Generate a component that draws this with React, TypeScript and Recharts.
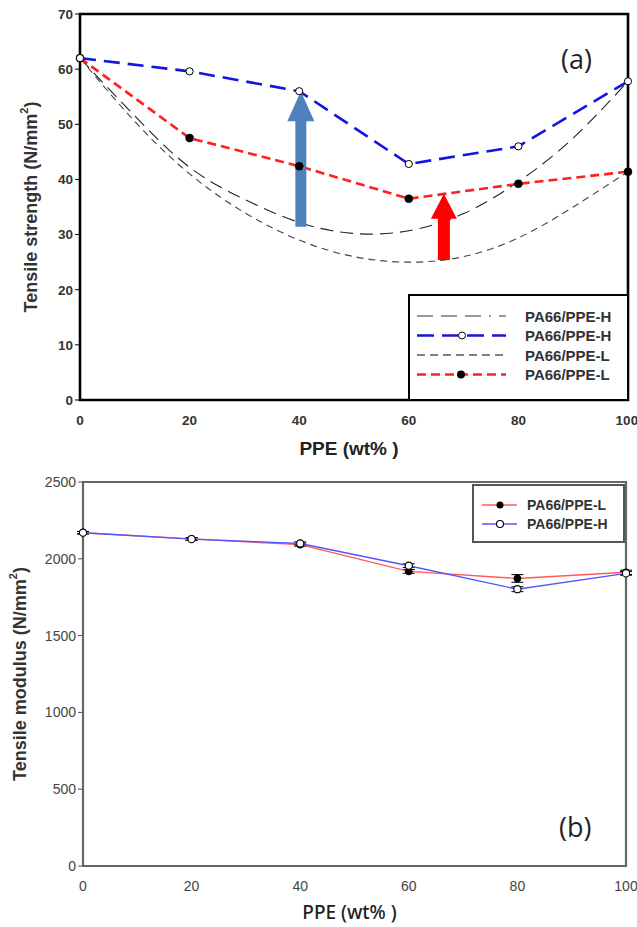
import {
  LineChart,
  Line,
  XAxis,
  YAxis,
  ReferenceArea,
  ReferenceLine,
  Legend,
  ErrorBar,
} from 'recharts';

// measured points
const ppe = [0, 20, 40, 60, 80, 100];
const strengthH = [62, 59.6, 56, 42.8, 46, 57.8];
const strengthL = [62, 47.5, 42.4, 36.5, 39.2, 41.4];

// additive (mixing rule) curves, read every 10 wt%
const ppeFine = [0, 10, 20, 30, 40, 50, 60, 70, 80, 90, 100];
const mixH = [62, 51.5, 42.2, 36.4, 32.2, 30.2, 30.7, 33.8, 39.6, 47.5, 57.8];
const mixL = [62, 50.5, 41, 34, 29, 26, 25, 26, 29.4, 35, 41.4];

const strengthTicks = [0, 10, 20, 30, 40, 50, 60, 70];
const ppeTicks = [0, 20, 40, 60, 80, 100];

const modulusL = [2170, 2130, 2092, 1918, 1872, 1912];
const modulusH = [2170, 2128, 2100, 1955, 1802, 1905];
const modulusErrL = [8, 8, 10, 12, 25, 14];
const modulusErrH = [8, 8, 10, 12, 16, 12];
const modulusTicks = [0, 500, 1000, 1500, 2000, 2500];

const topLegendNames = ['PA66/PPE-H', 'PA66/PPE-H', 'PA66/PPE-L', 'PA66/PPE-L'];
const bottomLegendNames = ['PA66/PPE-L', 'PA66/PPE-H'];

// arrows: x position, from, to
const blueArrow = { x: 40.3, from: 31.4, to: 56 };
const redArrow = { x: 66.4, from: 25.4, to: 37.4 };

const hData = ppe.map((x, i) => ({ x, y: strengthH[i] }));
const lData = ppe.map((x, i) => ({ x, y: strengthL[i] }));
const mixHData = ppeFine.map((x, i) => ({ x, y: mixH[i] }));
const mixLData = ppeFine.map((x, i) => ({ x, y: mixL[i] }));
const modData = ppe.map((x, i) => ({
  x,
  l: modulusL[i],
  h: modulusH[i],
  el: modulusErrL[i],
  eh: modulusErrH[i],
}));

const boldTick = { fontFamily: 'Liberation Sans, Arial, sans-serif', fontSize: 13.5, fontWeight: 700, fill: '#333' };
const narrowTick = { fontFamily: 'Liberation Sans Narrow, Arial Narrow, Liberation Sans, sans-serif', fontSize: 14, fill: '#444' };

function arrowShape(color: string, shaft: number, head: number, headLen: number) {
  return (p: any) => {
    const { x1, y1, x2, y2 } = p;
    const cx = (x1 + x2) / 2;
    const bottom = Math.max(y1, y2);
    const tip = Math.min(y1, y2);
    const base = tip + headLen;
    const pts = [
      [cx - shaft / 2, bottom],
      [cx - shaft / 2, base],
      [cx - head / 2, base],
      [cx, tip],
      [cx + head / 2, base],
      [cx + shaft / 2, base],
      [cx + shaft / 2, bottom],
    ]
      .map((q) => q.join(','))
      .join(' ');
    return <polygon points={pts} fill={color} stroke="none" />;
  };
}

function yLabel(text: string, x: number) {
  return (props: any) => {
    const vb = props.viewBox || {};
    const cy = vb.y + vb.height / 2;
    return (
      <text
        x={x}
        y={cy}
        transform={`rotate(-90 ${x} ${cy})`}
        textAnchor="middle"
        dominantBaseline="central"
        fontFamily="Liberation Sans, Arial, sans-serif"
        fontWeight={700}
        fontSize={18}
        fill="#333"
      >
        {text} (N/mm<tspan dy={-7} fontSize={11}>2</tspan>
        <tspan dy={7}>)</tspan>
      </text>
    );
  };
}

function xLabel(y: number, family: string, weight: number, size: number) {
  return (props: any) => {
    const vb = props.viewBox || {};
    const cx = vb.x + vb.width / 2 - 5;
    return (
      <text x={cx} y={y} textAnchor="middle" dominantBaseline="central" fontFamily={family} fontWeight={weight} fontSize={size} fill="#222">
        PPE (wt% )
      </text>
    );
  };
}

const legendText = { fontFamily: 'Liberation Sans, Arial, sans-serif', fontWeight: 700, fill: '#333' };

function TopLegend() {
  const styles = [
    { stroke: '#333', width: 1.2, dash: '16 8 16 8 16 8 2 8', dot: null },
    { stroke: '#1414e0', width: 2.6, dash: '17 8', dot: 'open' },
    { stroke: '#555', width: 1.3, dash: '8 5', dot: null },
    { stroke: '#ff2020', width: 2.6, dash: '9 5', dot: 'fill' },
  ];
  return (
    <div style={{ width: 221, height: 107, border: '2px solid #000', background: '#fff', boxSizing: 'border-box' }}>
      <svg width={217} height={103}>
        {topLegendNames.map((name, i) => {
          const y = 20 + i * 19.5;
          const s = styles[i];
          return (
            <g key={i}>
              <line x1={7} x2={96} y1={y} y2={y} stroke={s.stroke} strokeWidth={s.width} strokeDasharray={s.dash} />
              {s.dot === 'open' && <circle cx={52} cy={y} r={3.5} fill="#fff" stroke="#000" strokeWidth={1} />}
              {s.dot === 'fill' && <circle cx={51} cy={y} r={4} fill="#000" />}
              <text x={115} y={y} dominantBaseline="central" fontSize={15} {...legendText}>
                {name}
              </text>
            </g>
          );
        })}
      </svg>
    </div>
  );
}

function BottomLegend() {
  const colors = ['#ff5a5a', '#5555ff'];
  return (
    <div style={{ width: 153, height: 59, border: '2px solid #555', background: '#fff', boxSizing: 'border-box' }}>
      <svg width={149} height={55}>
        {bottomLegendNames.map((name, i) => {
          const y = 19 + i * 19;
          return (
            <g key={i}>
              <line x1={8} x2={43} y1={y} y2={y} stroke={colors[i]} strokeWidth={1.4} />
              {i === 0 ? (
                <circle cx={26} cy={y} r={3.5} fill="#000" />
              ) : (
                <circle cx={26} cy={y} r={3.5} fill="#fff" stroke="#000" strokeWidth={1.1} />
              )}
              <text x={53} y={y} dominantBaseline="central" fontSize={14} {...legendText}>
                {name}
              </text>
            </g>
          );
        })}
      </svg>
    </div>
  );
}

const panelLetter: React.CSSProperties = {
  position: 'absolute',
  fontFamily: 'Open Sans, Noto Sans, sans-serif',
  fontSize: 27,
  color: '#222',
  lineHeight: 1,
};

export default function App() {
  return (
    <div style={{ position: 'absolute', left: 0, top: 0, width: 637, height: 927, background: '#fff' }}>
      <div style={{ position: 'absolute', left: 0, top: 0 }}>
        <LineChart width={637} height={465} margin={{ top: 14, right: 9, left: 0, bottom: 0 }}>
          <XAxis
            dataKey="x"
            type="number"
            domain={[0, 100]}
            ticks={ppeTicks}
            allowDuplicatedCategory={false}
            height={65}
            axisLine={false}
            tickLine={false}
            tick={boldTick}
            tickMargin={9}
            label={xLabel(448, 'Liberation Sans, Arial, sans-serif', 700, 19)}
          />
          <YAxis
            type="number"
            domain={[0, 70]}
            ticks={strengthTicks}
            width={80}
            axisLine={false}
            tickLine={{ stroke: '#000' }}
            tickSize={5}
            tick={boldTick}
            label={yLabel('Tensile strength', 31)}
          />
          <ReferenceArea x1={0} x2={100} y1={0} y2={70} fill="none" stroke="#000" strokeWidth={2.6} />
          <Line data={mixLData} dataKey="y" type="natural" stroke="#444" strokeWidth={1.1} strokeDasharray="7 5" dot={false} isAnimationActive={false} legendType="none" />
          <Line data={mixHData} dataKey="y" type="natural" stroke="#222" strokeWidth={1.1} strokeDasharray="13 7" dot={false} isAnimationActive={false} legendType="none" />
          <Line
            data={lData}
            dataKey="y"
            type="linear"
            stroke="#ff2020"
            strokeWidth={2.6}
            strokeDasharray="9 5"
            dot={{ r: 4, fill: '#000', stroke: '#000', strokeWidth: 0.5, strokeDasharray: 'none' }}
            isAnimationActive={false}
          />
          <Line
            data={hData}
            dataKey="y"
            type="linear"
            stroke="#1414e0"
            strokeWidth={2.6}
            strokeDasharray="16 8"
            dot={{ r: 3.6, fill: '#fff', stroke: '#000', strokeWidth: 1, strokeDasharray: 'none' }}
            isAnimationActive={false}
          />
          <ReferenceLine
            segment={[
              { x: blueArrow.x, y: blueArrow.from },
              { x: blueArrow.x, y: blueArrow.to },
            ]}
            shape={arrowShape('#4f81bd', 11, 27, 30)}
          />
          <ReferenceLine
            segment={[
              { x: redArrow.x, y: redArrow.from },
              { x: redArrow.x, y: redArrow.to },
            ]}
            shape={arrowShape('#ff0000', 12, 26, 25)}
          />
          <Legend
            layout="vertical"
            align="center"
            verticalAlign="middle"
            content={() => <TopLegend />}
            wrapperStyle={{ position: 'absolute', left: 408, top: 294, width: 221, height: 107 }}
          />
        </LineChart>
        <div style={{ ...panelLetter, left: 561, top: 45 }}>(a)</div>
      </div>

      <div style={{ position: 'absolute', left: 0, top: 465 }}>
        <LineChart width={637} height={462} data={modData} margin={{ top: 17, right: 11, left: 0, bottom: 0 }}>
          <XAxis
            dataKey="x"
            type="number"
            domain={[0, 100]}
            ticks={ppeTicks}
            height={61}
            axisLine={false}
            tickLine={false}
            tick={narrowTick}
            tickMargin={9}
            label={xLabel(447, 'Noto Sans, sans-serif', 500, 19)}
          />
          <YAxis
            type="number"
            domain={[0, 2500]}
            ticks={modulusTicks}
            width={83}
            axisLine={false}
            tickLine={{ stroke: '#555' }}
            tickSize={5}
            tick={narrowTick}
            label={yLabel('Tensile modulus', 20)}
          />
          <ReferenceArea x1={0} x2={100} y1={0} y2={2500} fill="none" stroke="#666" strokeWidth={2.2} />
          <Line
            dataKey="l"
            type="linear"
            stroke="#ff5a5a"
            strokeWidth={1.4}
            dot={{ r: 3.6, fill: '#000', stroke: '#000', strokeWidth: 0.5 }}
            isAnimationActive={false}
          >
            <ErrorBar dataKey="el" width={6} stroke="#000" strokeWidth={1} />
          </Line>
          <Line
            dataKey="h"
            type="linear"
            stroke="#5555ff"
            strokeWidth={1.4}
            dot={{ r: 3.6, fill: '#fff', stroke: '#000', strokeWidth: 1.1 }}
            isAnimationActive={false}
          >
            <ErrorBar dataKey="eh" width={6} stroke="#000" strokeWidth={1} />
          </Line>
          <Legend
            layout="vertical"
            align="center"
            verticalAlign="middle"
            content={() => <BottomLegend />}
            wrapperStyle={{ position: 'absolute', left: 472, top: 19, width: 153, height: 59 }}
          />
        </LineChart>
        <div style={{ ...panelLetter, left: 559, top: 348 }}>(b)</div>
      </div>
    </div>
  );
}
